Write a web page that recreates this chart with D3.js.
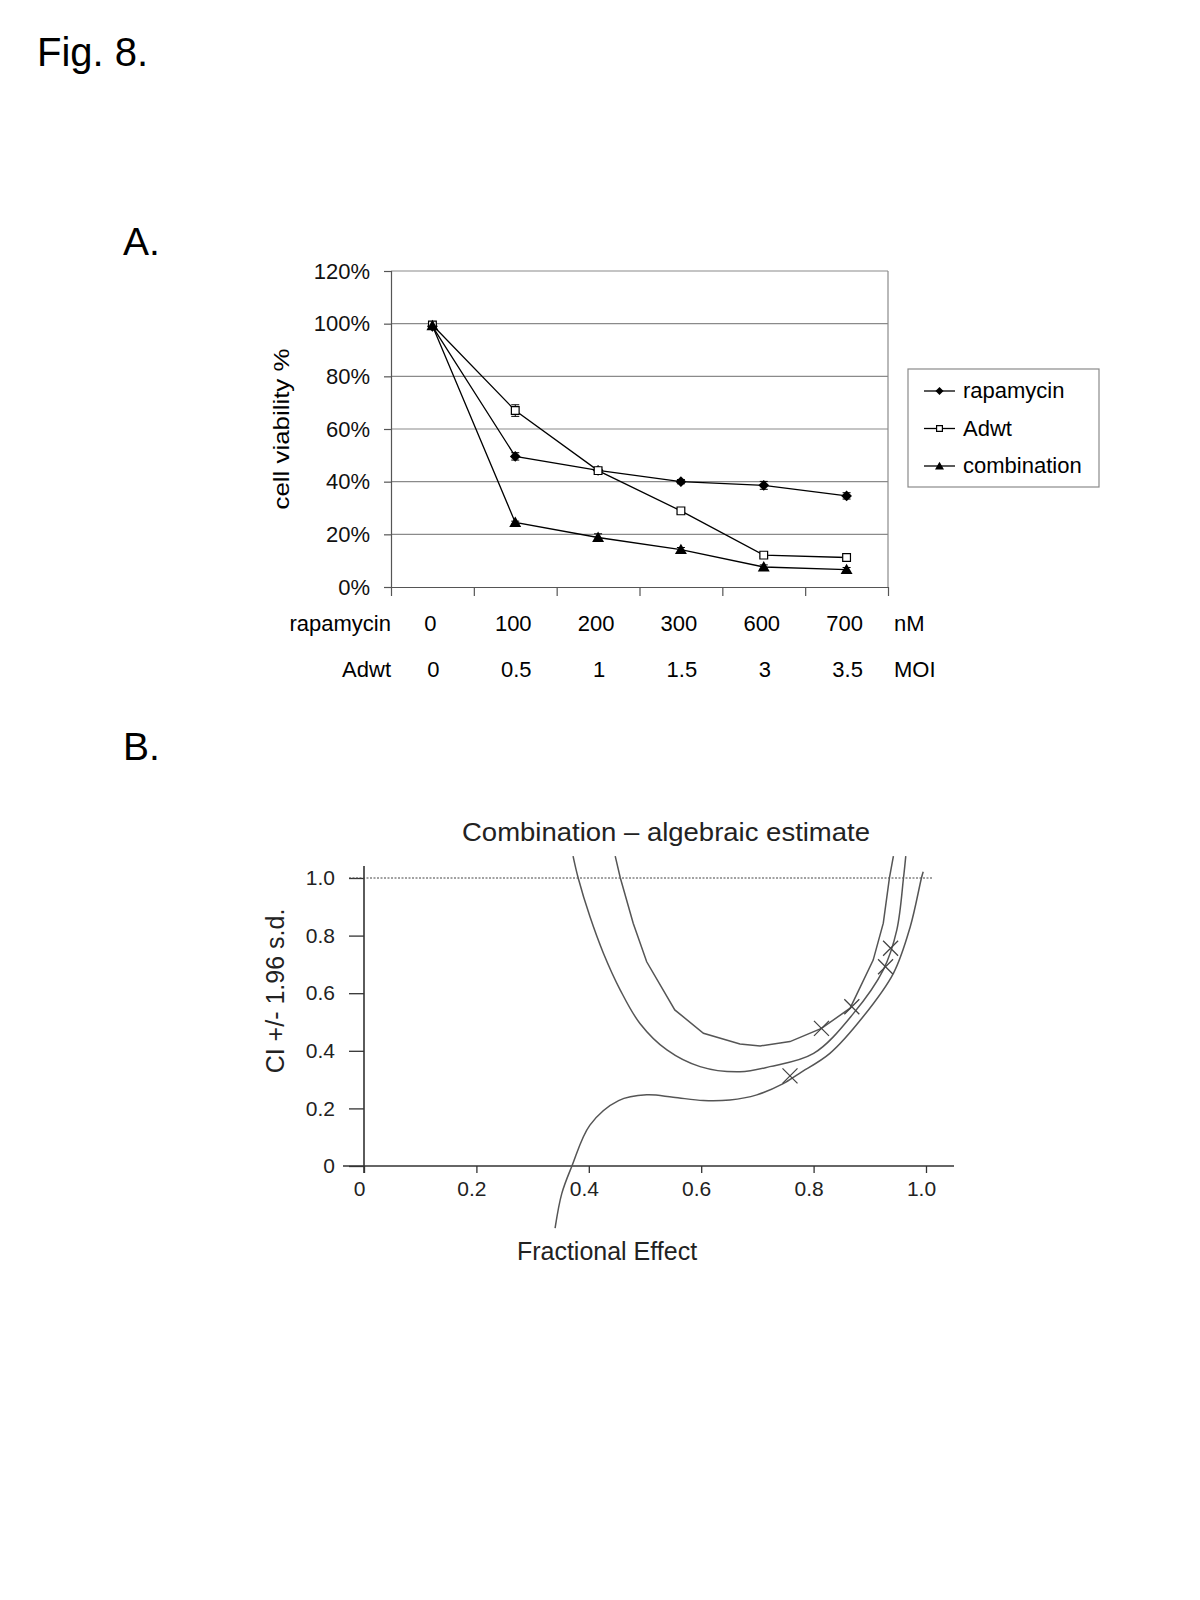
<!DOCTYPE html>
<html>
<head>
<meta charset="utf-8">
<script src="https://cdn.jsdelivr.net/npm/d3@7"></script>
<style>
  body { margin: 0; background: #fff; }
  svg text { font-family: "Liberation Sans", Arial, sans-serif; }
</style>
</head>
<body>
<svg id="fig" width="1200" height="1600"></svg>
<script>
// ---- panel A data: cell viability (%) ----
var rapamycinDoses = ["0", "100", "200", "300", "600", "700"];
var adwtDoses = ["0", "0.5", "1", "1.5", "3", "3.5"];
var rapamycinViability = [99.0, 49.6, 44.3, 40.0, 38.6, 34.6];
var rapamycinErr = [0.6, 1.4, 1.0, 0.8, 1.5, 1.2];
var adwtViability = [99.5, 67.0, 44.2, 28.9, 12.1, 11.2];
var adwtErr = [0.6, 2.2, 1.0, 1.0, 0.6, 0.8];
var combinationViability = [99.2, 24.5, 18.8, 14.2, 7.6, 6.6];
var combinationErr = [0.5, 0.5, 1.4, 0.8, 0.8, 0.8];
var viabilityTicks = [0, 20, 40, 60, 80, 100, 120];
var seriesNames = ["rapamycin", "Adwt", "combination"];

// ---- panel B data: combination index vs fractional effect ----
var upperFa = [0.447, 0.456, 0.479, 0.503, 0.553, 0.604, 0.669, 0.705, 0.758, 0.814, 0.865, 0.906, 0.924, 0.935, 0.942];
var upperCi = [1.076, 1.001, 0.843, 0.709, 0.542, 0.461, 0.424, 0.417, 0.432, 0.478, 0.548, 0.715, 0.843, 1.001, 1.076];
var midFa = [0.372, 0.381, 0.402, 0.426, 0.456, 0.491, 0.539, 0.598, 0.669, 0.722, 0.800, 0.871, 0.924, 0.948, 0.960, 0.964];
var midCi = [1.076, 1.001, 0.866, 0.739, 0.611, 0.495, 0.403, 0.345, 0.327, 0.345, 0.391, 0.530, 0.681, 0.819, 1.001, 1.076];
var lowerFa = [0.340, 0.352, 0.370, 0.402, 0.453, 0.503, 0.550, 0.604, 0.651, 0.699, 0.745, 0.775, 0.829, 0.888, 0.942, 0.972, 0.992, 0.995];
var lowerCi = [-0.216, -0.095, 0.0, 0.142, 0.227, 0.247, 0.239, 0.227, 0.229, 0.247, 0.285, 0.322, 0.391, 0.518, 0.669, 0.831, 1.001, 1.022];
var pointFa = [0.758, 0.814, 0.868, 0.928, 0.937];
var pointCi = [0.313, 0.478, 0.553, 0.692, 0.756];
var faTicks = [0, 0.2, 0.4, 0.6, 0.8, 1.0];
var ciTicks = [0, 0.2, 0.4, 0.6, 0.8, 1.0];

var svg = d3.select("#fig");

// figure labels
svg.append("text").attr("x", 37).attr("y", 66).attr("font-size", 40).text("Fig. 8.");
svg.append("text").attr("x", 123).attr("y", 255).attr("font-size", 39).text("A.");
svg.append("text").attr("x", 123).attr("y", 760).attr("font-size", 39).text("B.");

/* ================= panel A ================= */
var xA = d3.scaleBand().domain(d3.range(rapamycinDoses.length)).range([391, 888]).padding(0);
var xEdge = d3.scaleLinear().domain([0, rapamycinDoses.length]).range([391, 888]);
var yA = d3.scaleLinear().domain([0, 120]).range([587, 271]);
function cx(i) { return xA(i) + xA.bandwidth() / 2; }

var gA = svg.append("g");

// gridlines
gA.selectAll("line.grid").data(viabilityTicks.slice(1)).enter().append("line")
  .attr("x1", xEdge(0)).attr("x2", xEdge(6))
  .attr("y1", function (d) { return yA(d); }).attr("y2", function (d) { return yA(d); })
  .attr("stroke", "#8a8a8a").attr("stroke-width", 1.2);
gA.append("line")
  .attr("x1", xEdge(6)).attr("x2", xEdge(6)).attr("y1", yA(120)).attr("y2", yA(0))
  .attr("stroke", "#8a8a8a").attr("stroke-width", 1.2);

// y axis
var yAxisA = d3.axisLeft(yA).tickValues(viabilityTicks).tickSize(7).tickPadding(14)
  .tickFormat(function (d) { return d + "%"; });
gA.append("g").attr("transform", "translate(" + xEdge(0) + ",0)").call(yAxisA)
  .call(function (g) {
    g.selectAll("path, line").attr("stroke", "#555").attr("stroke-width", 1.2);
    g.selectAll("text").attr("font-size", 22).attr("fill", "#111")
      .attr("font-family", "Liberation Sans, Arial, sans-serif");
  });

// x axis (ticks on category boundaries)
var xAxisA = d3.axisBottom(xEdge).tickValues(d3.range(0, 7)).tickSize(9).tickFormat("").tickSizeOuter(0);
gA.append("g").attr("transform", "translate(0," + yA(0) + ")").call(xAxisA)
  .call(function (g) { g.selectAll("path, line").attr("stroke", "#555").attr("stroke-width", 1.2); });

// y title
gA.append("text")
  .attr("transform", "translate(289," + yA(60) + ") rotate(-90)")
  .attr("text-anchor", "middle").attr("font-size", 22)
  .attr("textLength", 161).attr("lengthAdjust", "spacingAndGlyphs")
  .text("cell viability %");

// category label rows
gA.append("text").attr("x", xEdge(0)).attr("y", 631).attr("text-anchor", "end").attr("font-size", 22).text("rapamycin");
gA.append("text").attr("x", xEdge(0)).attr("y", 677).attr("text-anchor", "end").attr("font-size", 22).text("Adwt");
gA.selectAll("text.dose1").data(rapamycinDoses).enter().append("text")
  .attr("x", function (d, i) { return cx(i) - 2; }).attr("y", 631)
  .attr("text-anchor", "middle").attr("font-size", 22).text(function (d) { return d; });
gA.selectAll("text.dose2").data(adwtDoses).enter().append("text")
  .attr("x", function (d, i) { return cx(i) + 1; }).attr("y", 677)
  .attr("text-anchor", "middle").attr("font-size", 22).text(function (d) { return d; });
gA.append("text").attr("x", xEdge(6) + 6).attr("y", 631).attr("font-size", 22).text("nM");
gA.append("text").attr("x", xEdge(6) + 6).attr("y", 677).attr("font-size", 22).text("MOI");

var lineA = d3.line().x(function (d, i) { return cx(i); }).y(function (d) { return yA(d); });

var seriesA = [
  { name: "rapamycin", values: rapamycinViability, err: rapamycinErr, kind: "diamond" },
  { name: "Adwt", values: adwtViability, err: adwtErr, kind: "square" },
  { name: "combination", values: combinationViability, err: combinationErr, kind: "triangle" }
];

function drawMarker(g, kind, x, y, s) {
  if (kind === "diamond") {
    g.append("path").attr("d", d3.symbol().type(d3.symbolSquare).size(58 * s * s)())
      .attr("transform", "translate(" + x + "," + y + ") rotate(45)").attr("fill", "#000");
  } else if (kind === "square") {
    g.append("path").attr("d", d3.symbol().type(d3.symbolSquare).size(60 * s * s)())
      .attr("transform", "translate(" + x + "," + y + ")")
      .attr("fill", "#fff").attr("stroke", "#000").attr("stroke-width", 1.2);
  } else {
    g.append("path").attr("d", d3.symbol().type(d3.symbolTriangle).size(62 * s * s)())
      .attr("transform", "translate(" + x + "," + (y + 1) + ")").attr("fill", "#000");
  }
}

seriesA.forEach(function (s) {
  gA.append("path").datum(s.values).attr("d", lineA)
    .attr("fill", "none").attr("stroke", "#000").attr("stroke-width", 1.3);
  s.values.forEach(function (v, i) {
    var x = cx(i);
    var y0 = yA(v - s.err[i]), y1 = yA(v + s.err[i]);
    gA.append("line").attr("x1", x).attr("x2", x).attr("y1", y0).attr("y2", y1).attr("stroke", "#000");
    gA.append("line").attr("x1", x - 4).attr("x2", x + 4).attr("y1", y0).attr("y2", y0).attr("stroke", "#000");
    gA.append("line").attr("x1", x - 4).attr("x2", x + 4).attr("y1", y1).attr("y2", y1).attr("stroke", "#000");
  });
});
seriesA.forEach(function (s) {
  s.values.forEach(function (v, i) { drawMarker(gA, s.kind, cx(i), yA(v), 1); });
});

// legend
var leg = gA.append("g").attr("transform", "translate(908,369)");
leg.append("rect").attr("width", 191).attr("height", 118)
  .attr("fill", "#fff").attr("stroke", "#8a8a8a").attr("stroke-width", 1.2);
seriesA.forEach(function (s, i) {
  var y = 22 + i * 37.5;
  leg.append("line").attr("x1", 16).attr("x2", 47).attr("y1", y).attr("y2", y).attr("stroke", "#000").attr("stroke-width", 1.3);
  drawMarker(leg, s.kind, 31.5, y, 0.75);
  leg.append("text").attr("x", 55).attr("y", y + 7).attr("font-size", 22).text(seriesNames[i]);
});

/* ================= panel B ================= */
var xB = d3.scaleLinear().domain([0, 1]).range([364, 926]);
var yB = d3.scaleLinear().domain([0, 1]).range([1166, 878]);
var gB = svg.append("g");
var axisColor = "#333";

// axis lines
gB.append("line").attr("x1", xB(0)).attr("x2", xB(0)).attr("y1", 866).attr("y2", 1173)
  .attr("stroke", axisColor).attr("stroke-width", 1.6);
gB.append("line").attr("x1", 343).attr("x2", 954).attr("y1", yB(0)).attr("y2", yB(0))
  .attr("stroke", axisColor).attr("stroke-width", 1.6);

var yAxisB = d3.axisLeft(yB).tickValues(ciTicks).tickSize(15).tickPadding(14)
  .tickFormat(function (d) { return d === 0 ? "0" : d3.format(".1f")(d); });
gB.append("g").attr("transform", "translate(" + xB(0) + ",0)").call(yAxisB)
  .call(function (g) {
    g.select(".domain").remove();
    g.selectAll("line").attr("stroke", axisColor).attr("stroke-width", 1.3);
    g.selectAll("text").attr("font-size", 21).attr("fill", "#222")
      .attr("font-family", "Liberation Sans, Arial, sans-serif");
  });

var xAxisB = d3.axisBottom(xB).tickValues(faTicks).tickSize(7).tickPadding(8)
  .tickFormat(function (d) { return d === 0 ? "0" : d3.format(".1f")(d); });
gB.append("g").attr("transform", "translate(0," + yB(0) + ")").call(xAxisB)
  .call(function (g) {
    g.select(".domain").remove();
    g.selectAll("line").attr("stroke", axisColor).attr("stroke-width", 1.3);
    g.selectAll("text").attr("font-size", 21).attr("fill", "#222").attr("dx", -5)
      .attr("font-family", "Liberation Sans, Arial, sans-serif");
  });

// reference line CI = 1
gB.append("line").attr("x1", 349).attr("x2", 932).attr("y1", yB(1)).attr("y2", yB(1))
  .attr("stroke", "#444").attr("stroke-width", 1).attr("stroke-dasharray", "2,1.5");

function drawCurve(fa, ci, curve) {
  var pts = fa.map(function (f, i) { return [xB(f), yB(ci[i])]; });
  gB.append("path").attr("d", d3.line().curve(curve)(pts)).attr("fill", "none")
    .attr("stroke", "#555").attr("stroke-width", 1.5);
}
drawCurve(upperFa, upperCi, d3.curveLinear);
drawCurve(midFa, midCi, d3.curveCatmullRom.alpha(0.5));
drawCurve(lowerFa, lowerCi, d3.curveCatmullRom.alpha(0.5));

// data points (x marks)
pointFa.forEach(function (f, i) {
  var x = xB(f), y = yB(pointCi[i]), r = 7.5;
  gB.append("path")
    .attr("d", "M" + (x - r) + "," + (y - r) + "L" + (x + r) + "," + (y + r) +
      "M" + (x - r) + "," + (y + r) + "L" + (x + r) + "," + (y - r))
    .attr("stroke", "#444").attr("stroke-width", 1.3);
});

// titles
gB.append("text").attr("x", 666).attr("y", 841).attr("text-anchor", "middle")
  .attr("font-size", 25).attr("fill", "#222").attr("textLength", 408).attr("lengthAdjust", "spacingAndGlyphs")
  .text("Combination \u2013 algebraic estimate");
gB.append("text").attr("x", 607).attr("y", 1260).attr("text-anchor", "middle")
  .attr("font-size", 25).attr("fill", "#222").text("Fractional Effect");
gB.append("text").attr("transform", "translate(284," + 991 + ") rotate(-90)")
  .attr("text-anchor", "middle").attr("font-size", 25).attr("fill", "#222")
  .text("CI +/- 1.96 s.d.");
</script>
</body>
</html>
